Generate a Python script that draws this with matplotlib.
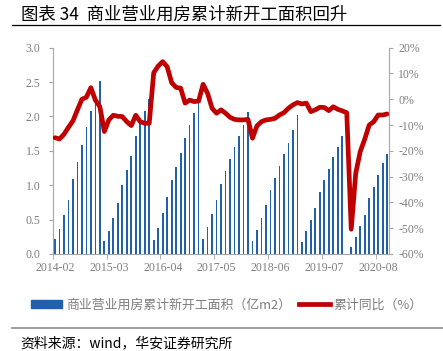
import numpy as np
import matplotlib
matplotlib.use("Agg")
import matplotlib.pyplot as plt
from matplotlib.lines import Line2D
from matplotlib.patches import Patch

plt.rcParams['font.family'] = ['Noto Sans CJK SC', 'DejaVu Sans']

# categories: Feb..Dec each year (Jan merged into Feb), up to 2020-10
months = [f"{y}-{m:02d}" for y in range(2014, 2021) for m in range(2, 13)][:75]

# cumulative new construction area, 100 million m2
area = [
    0.22, 0.37, 0.56, 0.79, 1.09, 1.34, 1.59, 1.84, 2.08, 2.28, 2.51,   # 2014
    0.19, 0.34, 0.52, 0.74, 1.00, 1.22, 1.42, 1.72, 1.90, 2.08, 2.26,   # 2015
    0.21, 0.38, 0.60, 0.83, 1.07, 1.27, 1.47, 1.68, 1.88, 2.05, 2.21,   # 2016
    0.22, 0.39, 0.58, 0.78, 1.02, 1.20, 1.38, 1.55, 1.72, 1.88, 2.06,   # 2017
    0.19, 0.35, 0.52, 0.71, 0.93, 1.11, 1.28, 1.45, 1.62, 1.81, 2.02,   # 2018
    0.18, 0.34, 0.49, 0.67, 0.90, 1.07, 1.23, 1.41, 1.56, 1.72, np.nan, # 2019
    0.10, 0.24, 0.40, 0.57, 0.81, 0.97, 1.15, 1.32, 1.46,               # 2020
]

# cumulative yoy, %
yoy = [
    -14.9, -15.4, -13.6, -10.9, -8.4, -4.1, 0.0, 0.8, 4.5, -0.3, -2.9,
    -12.5, -8.0, -6.2, -6.6, -6.7, -8.7, -10.2, -6.2, -8.7, -9.3, -9.3,
    10.3, 12.9, 14.6, 12.6, 6.4, 4.6, 4.3, -1.5, -0.3, -0.9, -0.7,
    5.8, 2.3, -3.5, -5.4, -4.1, -5.4, -7.0, -7.8, -8.0, -8.0, -7.8,
    -15.1, -10.3, -8.7, -8.0, -7.8, -7.4, -6.1, -5.2, -3.5, -2.2, -1.3,
    -1.8, -1.5, -4.8, -4.1, -3.1, -3.2, -4.4, -2.9, -3.9, -4.5, -5.2,
    -50.4, -28.7, -20.3, -15.5, -10.0, -8.7, -6.1, -6.1, -5.7,
]

bar_label = "商业营业用房累计新开工面积（亿m2）"
line_label = "累计同比（%）"
title = "图表 34  商业营业用房累计新开工面积回升"
source = "资料来源：wind，华安证券研究所"

gray = '#7f7f7f'
spine_gray = '#a6a6a6'
num_font = 'Liberation Serif'

fig = plt.figure(figsize=(4.43, 3.51), dpi=100)
ax = fig.add_axes([0.119, 0.2764, 0.76, 0.5877])
ax2 = ax.twinx()

x = np.arange(len(months))
ax.bar(x, area, width=0.38, color='#2360aa', zorder=2)
ax2.plot(x, yoy, color='#c00000', lw=3.4, solid_joinstyle='round', solid_capstyle='round')

ax.set_xlim(-0.5, len(months) - 0.5)
ax.set_ylim(0, 3.0)
ax2.set_ylim(-60, 20)

ax.set_yticks(np.arange(0, 3.01, 0.5))
ax.set_yticklabels([f"{v:.1f}" for v in np.arange(0, 3.01, 0.5)])
ax2.set_yticks(np.arange(-60, 21, 10))
ax2.set_yticklabels([f"{v}%" for v in range(-60, 21, 10)])

ax.set_xticks(x[::12])
ax.set_xticklabels(months[::12])
ax.set_xticks(np.arange(-0.5, len(months), 12), minor=True)

for a in (ax, ax2):
    for s in a.spines.values():
        s.set_color(spine_gray)
    a.spines['top'].set_visible(False)
ax.spines['right'].set_visible(False)
ax2.spines['left'].set_visible(False)
ax2.spines['bottom'].set_visible(False)

ax.tick_params(axis='x', which='major', length=0, pad=6, labelsize=8.5, labelcolor=gray)
ax.tick_params(axis='x', which='minor', length=3.5, color=spine_gray)
ax.tick_params(axis='y', length=3, color=spine_gray, pad=6, labelsize=8.5, labelcolor=gray)
ax2.tick_params(axis='y', length=3, color=spine_gray, pad=3.5, labelsize=8.5, labelcolor=gray)
for lab in ax.get_xticklabels() + ax.get_yticklabels() + ax2.get_yticklabels():
    lab.set_fontfamily(num_font)

handles = [Patch(color='#2360aa', label=bar_label),
           Line2D([], [], color='#c00000', lw=3.4, label=line_label)]
leg = fig.legend(handles=handles, loc='center', bbox_to_anchor=(0.512, 0.131), ncol=2,
                 frameon=False, fontsize=9.3, handlelength=2.4, handleheight=0.5,
                 columnspacing=0.6, handletextpad=0.3)
for t in leg.get_texts():
    t.set_color(gray)

fig.text(0.048, 0.957, title, fontsize=12.5, fontweight='medium', color='black', va='center')
fig.add_artist(Line2D([0.027, 0.993], [0.929, 0.929], transform=fig.transFigure, color='black', lw=0.9))
fig.add_artist(Line2D([0.027, 1.0], [0.066, 0.066], transform=fig.transFigure, color='#8c8c8c', lw=1.2))
fig.text(0.047, 0.023, source, fontsize=10, color='black', va='center')

fig.savefig('out.png', dpi=100)
